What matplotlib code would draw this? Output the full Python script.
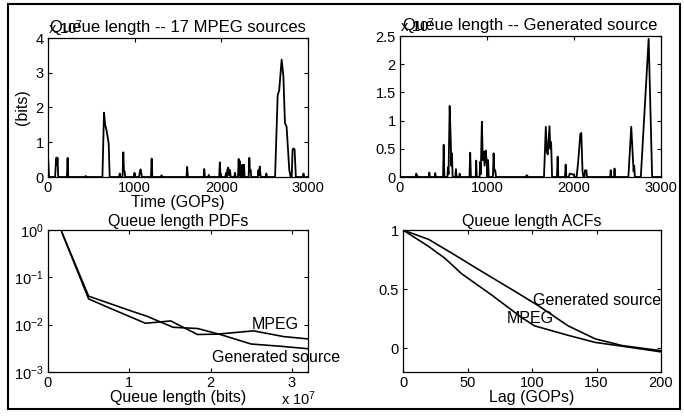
import matplotlib
matplotlib.use('Agg')
import matplotlib.pyplot as plt
from matplotlib.patches import Rectangle
from matplotlib.ticker import FixedLocator, NullLocator

plt.rcParams['font.family'] = ['Liberation Sans', 'DejaVu Sans']
plt.rcParams['mathtext.fontset'] = 'custom'
plt.rcParams['mathtext.rm'] = 'Liberation Sans'
plt.rcParams['mathtext.it'] = 'Liberation Sans'
plt.rcParams['axes.unicode_minus'] = False

# ---------------- data (queue lengths in units of 1e7 bits) ----------------
mpeg_time = [0, 12, 82, 92, 98, 104, 110, 118, 218, 226, 234, 430, 436, 442,
             628, 646, 660, 675, 700, 712, 820, 828, 836, 860, 869, 876, 884, 892,
             990, 998, 1006, 1050, 1060, 1068, 1076, 1084, 1188, 1196, 1204,
             1305, 1310, 1315, 1598, 1606, 1614, 1796, 1803, 1810, 1850, 1855, 1860,
             1975, 1983, 1991, 2045, 2055, 2062, 2070, 2080, 2090, 2100, 2108,
             2150, 2158, 2165, 2192, 2200, 2207, 2215, 2222, 2230, 2237, 2245, 2252,
             2262, 2268, 2315, 2323, 2330, 2338, 2345, 2420, 2428, 2435, 2443, 2450,
             2456, 2512, 2520, 2528, 2620, 2650, 2668, 2696, 2716, 2734, 2753, 2784,
             2800, 2812, 2822, 2830, 2845, 2860, 2940, 2948, 2956, 3000]
mpeg_queue = [0.60, 0.0, 0.0, 0.45, 0.56, 0.35, 0.55, 0.0, 0.0, 0.55, 0.0, 0.0, 0.03, 0.0,
              0.0, 1.85, 1.5, 1.35, 0.97, 0.0, 0.0, 0.10, 0.0, 0.0, 0.71, 0.20, 0.15, 0.0,
              0.0, 0.12, 0.0, 0.0, 0.15, 0.22, 0.12, 0.0, 0.0, 0.53, 0.0,
              0.0, 0.05, 0.0, 0.0, 0.29, 0.0, 0.0, 0.23, 0.0, 0.0, 0.06, 0.0,
              0.0, 0.42, 0.0, 0.0, 0.12, 0.0, 0.22, 0.27, 0.05, 0.20, 0.0,
              0.0, 0.12, 0.0, 0.0, 0.52, 0.05, 0.45, 0.0, 0.33, 0.05, 0.35, 0.0,
              0.35, 0.0, 0.0, 0.55, 0.15, 0.20, 0.0, 0.0, 0.20, 0.05, 0.30, 0.10,
              0.0, 0.0, 0.10, 0.0, 0.0, 2.35, 2.5, 3.38, 2.9, 1.55, 1.45, 0.20,
              0.0, 0.0, 0.78, 0.82, 0.80, 0.0, 0.0, 0.10, 0.0, 0.0]

gen_time = [0, 180, 186, 195, 205, 330, 337, 344, 398, 405, 412,
            495, 502, 510, 545, 551, 558, 571, 584, 590, 597, 605, 636, 643, 650, 680, 686, 692,
            798, 807, 815, 870, 876, 882, 915, 922, 928, 941, 952, 962, 972, 985, 995, 1005, 1012, 1020,
            1068, 1076, 1084, 1094, 1104, 1440, 1458, 1475,
            1655, 1676, 1688, 1698, 1718, 1728, 1737, 1748, 1804, 1812, 1820, 1896, 1904, 1912,
            1940, 1950, 1975, 1995, 2010, 2030, 2048, 2060, 2072, 2084, 2098, 2108,
            2120, 2127, 2135, 2142, 2150, 2416, 2422, 2428, 2460, 2466, 2472,
            2625, 2658, 2685, 2692, 2700, 2768, 2858, 2898, 3000]
gen_queue = [0.0, 0.0, 0.06, 0.03, 0.0, 0.0, 0.08, 0.0, 0.0, 0.07, 0.0,
             0.0, 0.57, 0.0, 0.0, 0.17, 0.05, 1.26, 0.6, 0.2, 0.42, 0.0, 0.0, 0.14, 0.0, 0.0, 0.06, 0.0,
             0.0, 0.43, 0.0, 0.0, 0.29, 0.0, 0.0, 0.27, 0.05, 0.98, 0.30, 0.45, 0.20, 0.47, 0.30, 0.0, 0.30, 0.0,
             0.0, 0.42, 0.10, 0.12, 0.0, 0.0, 0.03, 0.0,
             0.0, 0.89, 0.45, 0.40, 0.90, 0.50, 0.62, 0.0, 0.0, 0.36, 0.0, 0.0, 0.22, 0.0,
             0.0, 0.06, 0.05, 0.04, 0.0, 0.0, 0.27, 0.50, 0.76, 0.78, 0.10, 0.0,
             0.0, 0.12, 0.08, 0.12, 0.0, 0.0, 0.12, 0.0, 0.0, 0.15, 0.0,
             0.0, 0.89, 0.10, 0.20, 0.0, 0.0, 2.45, 0.0, 0.0]

# PDFs (queue length in units of 1e7 bits)
pdf_mpeg_x = [0.17, 0.5, 0.77, 1.2, 1.51, 1.84, 2.08, 2.53, 2.9, 3.2]
pdf_mpeg_y = [0.9, 0.035, 0.022, 0.0107, 0.012, 0.0062, 0.0063, 0.0074, 0.0056, 0.005]
pdf_gen_x = [0.17, 0.5, 1.015, 1.22, 1.54, 1.84, 2.12, 2.5, 2.86, 3.2]
pdf_gen_y = [0.9, 0.04, 0.0197, 0.015, 0.0088, 0.0083, 0.0062, 0.0039, 0.0035, 0.0031]

# ACFs
acf_gen_lag = [0, 20, 40, 61, 87, 105, 128, 149, 170, 200]
acf_gen = [1.0, 0.92, 0.79, 0.65, 0.48, 0.36, 0.19, 0.08, 0.023, -0.02]
acf_mpeg_lag = [0, 20, 32.6, 45.5, 68.8, 92, 102, 128, 149, 175, 200]
acf_mpeg = [1.0, 0.86, 0.76, 0.63, 0.45, 0.26, 0.19, 0.11, 0.05, 0.01, -0.03]

# ---------------- figure ----------------
W, H = 684, 419
fig = plt.figure(figsize=(W / 100, H / 100), dpi=100)
FS = 10.5    # tick labels
TS = 11.5    # titles, axis labels, annotations


def rect(l, r, t, b):
    return [l / W, 1 - b / H, (r - l) / W, (b - t) / H]


def style(ax):
    ax.tick_params(direction='in', top=True, right=True, length=3, width=0.8,
                   labelsize=FS, pad=3)
    for s in ax.spines.values():
        s.set_linewidth(0.9)


LW = 1.3

ax1 = fig.add_axes(rect(48, 308, 38, 177))
ax1.plot(mpeg_time, mpeg_queue, color='black', lw=LW)
ax1.set_xlim(0, 3000)
ax1.set_ylim(0, 4)
ax1.set_xticks([0, 1000, 2000, 3000])
ax1.set_yticks([0, 1, 2, 3, 4])
ax1.set_xlabel('Time (GOPs)', fontsize=TS, labelpad=0)
ax1.set_ylabel('(bits)', fontsize=TS)
ax1.yaxis.set_label_coords(-0.069, 0.5)
ax1.text(0, 1.005, r'x 10$^{7}$', transform=ax1.transAxes, fontsize=FS, ha='left', va='bottom')
ax1.set_title('Queue length -- 17 MPEG sources', fontsize=TS + 0.5, pad=4)
style(ax1)

ax2 = fig.add_axes(rect(400, 661, 36, 177))
ax2.plot(gen_time, gen_queue, color='black', lw=LW)
ax2.set_xlim(0, 3000)
ax2.set_ylim(0, 2.5)
ax2.set_xticks([0, 1000, 2000, 3000])
ax2.set_yticks([0, 0.5, 1, 1.5, 2, 2.5])
ax2.set_yticklabels(['0', '0.5', '1', '1.5', '2', '2.5'])
ax2.text(0, 1.005, r'x 10$^{7}$', transform=ax2.transAxes, fontsize=FS, ha='left', va='bottom')
ax2.set_title('Queue length -- Generated source', fontsize=TS + 0.5, pad=4)
style(ax2)

ax3 = fig.add_axes(rect(48, 308, 230, 372))
ax3.plot(pdf_mpeg_x, pdf_mpeg_y, color='black', lw=LW * 0.9)
ax3.plot(pdf_gen_x, pdf_gen_y, color='black', lw=LW * 0.9)
ax3.set_yscale('log')
ax3.set_xlim(0, 3.2)
ax3.set_ylim(1e-3, 1)
ax3.set_xticks([0, 1, 2, 3])
ax3.set_xticklabels(['0', '1', '2', '3'])
ax3.yaxis.set_major_locator(FixedLocator([1e-3, 1e-2, 1e-1, 1]))
ax3.yaxis.set_minor_locator(NullLocator())
ax3.set_yticklabels([r'10$^{-3}$', r'10$^{-2}$', r'10$^{-1}$', r'10$^{0}$'])
ax3.set_xlabel('Queue length (bits)', fontsize=TS, labelpad=0)
ax3.text(0.965, -0.125, r'x 10$^{7}$', transform=ax3.transAxes, fontsize=FS, ha='center', va='top')
ax3.set_title('Queue length PDFs', fontsize=TS, pad=3)
ax3.text(2.51, 0.0100, 'MPEG', fontsize=TS, ha='left', va='center', clip_on=False)
ax3.text(2.02, 0.0020, 'Generated source', fontsize=TS, ha='left', va='center', clip_on=False)
style(ax3)

ax4 = fig.add_axes(rect(403, 661, 230, 372))
ax4.plot(acf_mpeg_lag, acf_mpeg, color='black', lw=LW * 0.9)
ax4.plot(acf_gen_lag, acf_gen, color='black', lw=LW * 0.9)
ax4.set_xlim(0, 200)
ax4.set_ylim(-0.2, 1)
ax4.set_xticks([0, 50, 100, 150, 200])
ax4.set_yticks([0, 0.5, 1])
ax4.set_yticklabels(['0', '0.5', '1'])
ax4.set_xlabel('Lag (GOPs)', fontsize=TS, labelpad=0)
ax4.set_title('Queue length ACFs', fontsize=TS, pad=3)
ax4.text(101, 0.405, 'Generated source', fontsize=TS, ha='left', va='center', clip_on=False)
ax4.text(80.4, 0.25, 'MPEG', fontsize=TS, ha='left', va='center', clip_on=False)
style(ax4)

fig.patches.append(Rectangle((8 / W, 1 - 409 / H), (680 - 8) / W, (409 - 4) / H,
                             transform=fig.transFigure, fill=False, lw=1.5, ec='black'))

fig.savefig('out.png', dpi=100, facecolor='white')
